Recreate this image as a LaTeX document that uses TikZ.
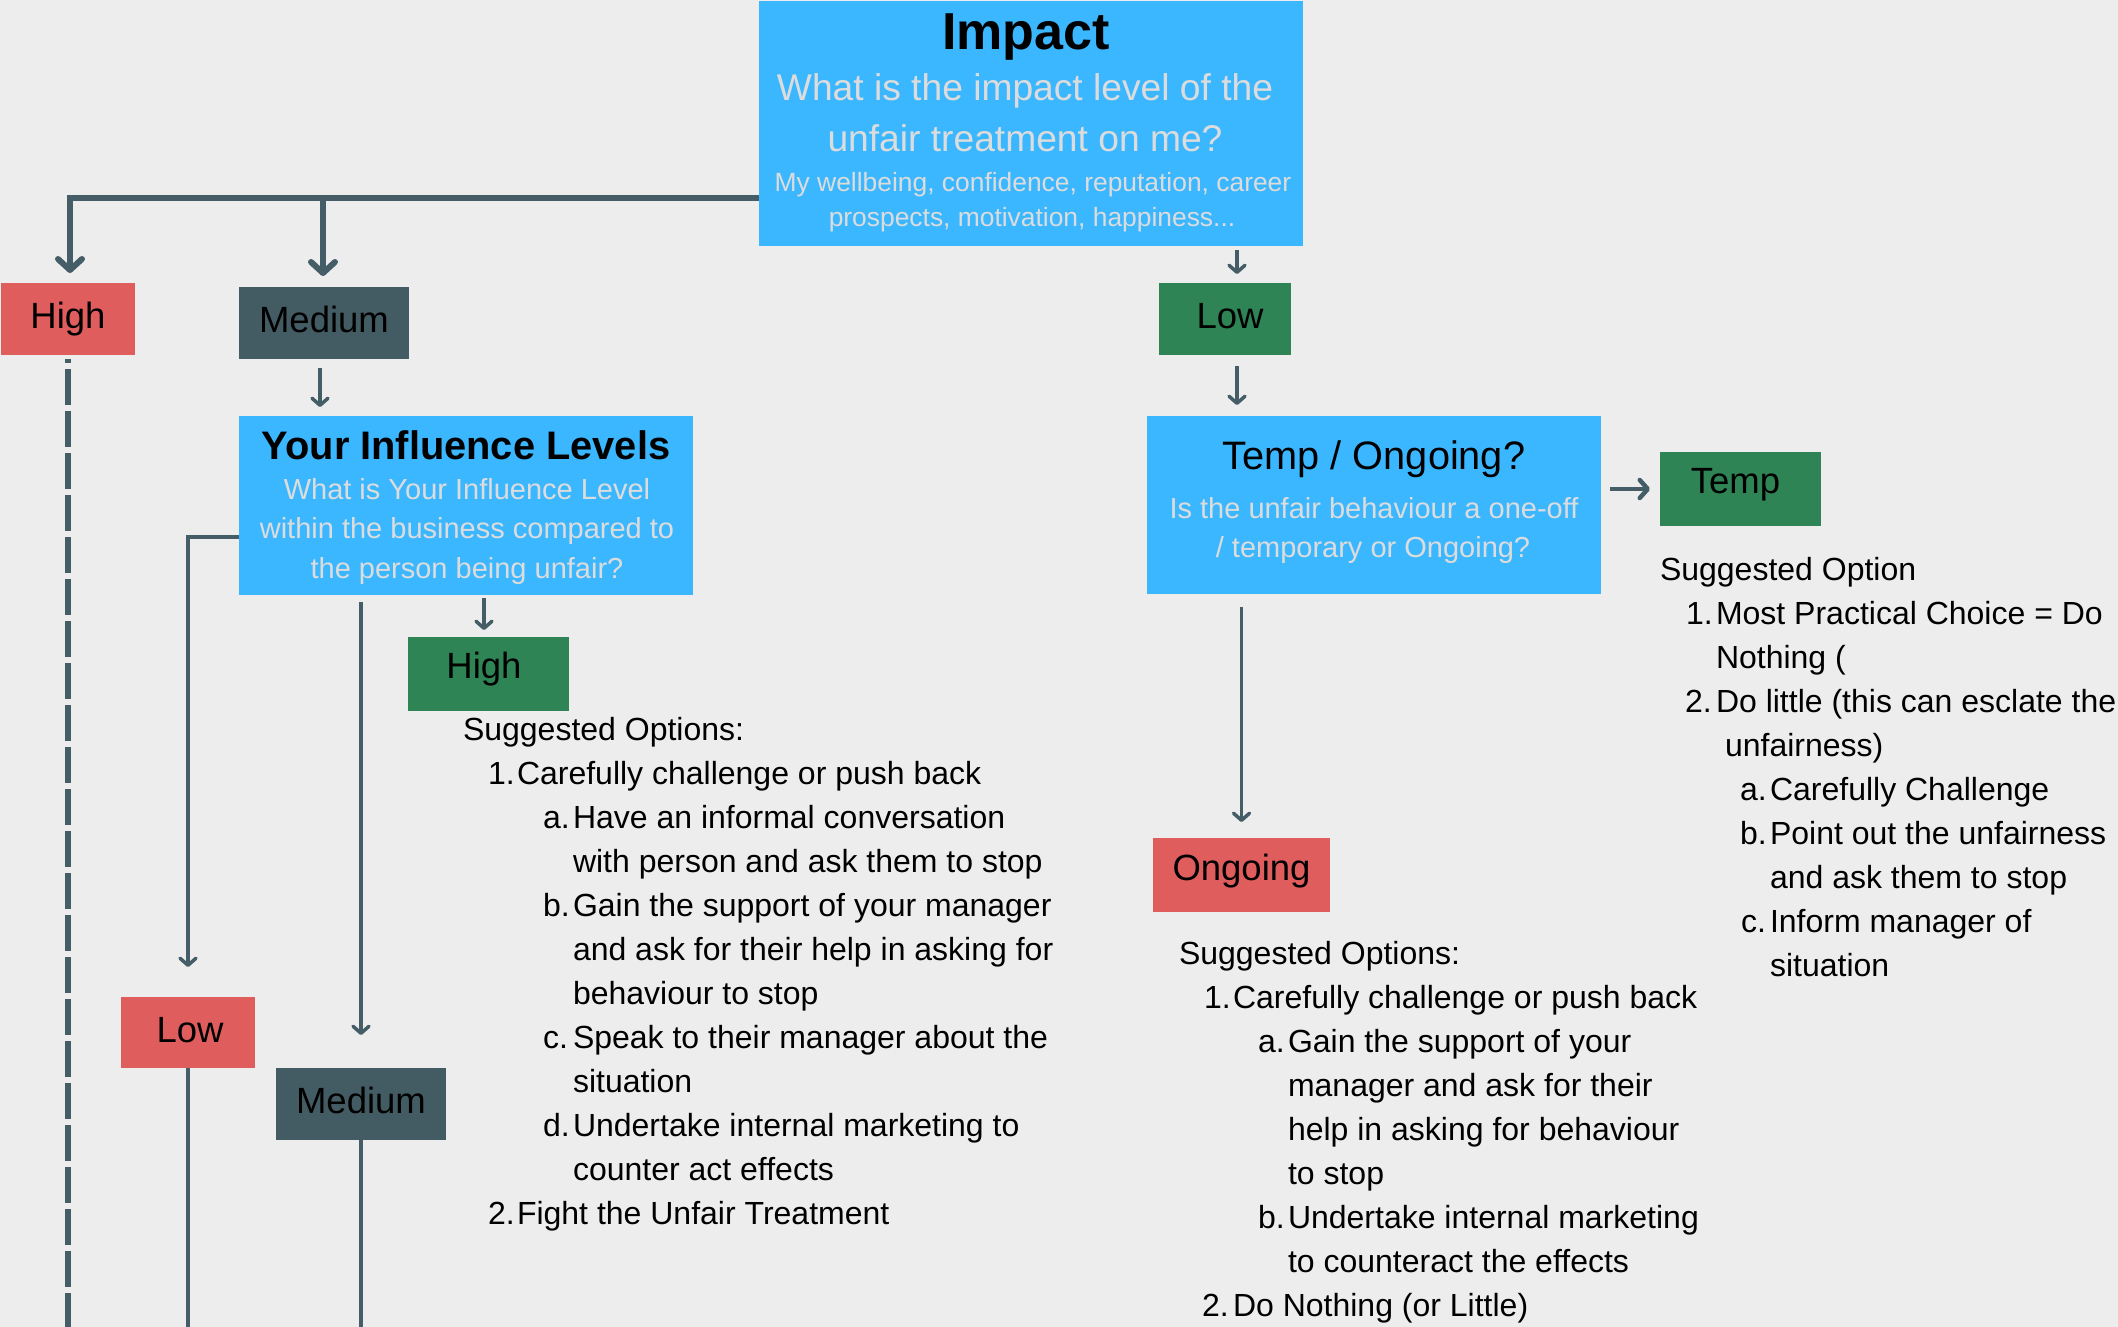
\documentclass[tikz,border=0pt]{standalone}
\usepackage{fontspec}
\setmainfont{Liberation Sans}
\usetikzlibrary{arrows.meta}
\definecolor{bg}{HTML}{EDEDED}
\definecolor{qblue}{HTML}{3BB7FF}
\definecolor{qred}{HTML}{E05D5D}
\definecolor{qgreen}{HTML}{2E8454}
\definecolor{qslate}{HTML}{435B63}
\definecolor{qline}{HTML}{455D66}
\definecolor{qgrey}{HTML}{DCDCDC}
\begin{document}
\begin{tikzpicture}[x=1pt,y=-1pt,
  blk/.style={inner sep=0pt,outer sep=0pt,draw=none},
  lbl/.style={blk,font=\fontsize{36.5}{40}\selectfont,text=black,text height=26.5pt,text depth=7.5pt},
  txt/.style={anchor=base,inner sep=0pt,outer sep=0pt},
  ttl/.style={txt,font=\fontsize{#1}{#1}\selectfont\bfseries,text=black},
  sub/.style={txt,font=\fontsize{#1}{#1}\selectfont,text=qgrey},
  body/.style={anchor=base west,inner sep=0pt,outer sep=0pt,font=\fontsize{32}{38}\selectfont,text=black},
  conn/.style={draw=qline,line width=3.5pt},
  thinarrow/.style={conn,-{Straight Barb[length=7pt,width=16pt,round]}},
  bigarrow/.style={draw=qline,line width=6pt,-{Straight Barb[length=11pt,width=24pt,round]}},
  midarrow/.style={draw=qline,line width=4.5pt,-{Straight Barb[length=8pt,width=18pt,round]}},
  dashline/.style={draw=qline,line width=6pt,dash pattern=on 36pt off 6pt,dash phase=32pt}
]
\fill[bg] (0,0) rectangle (2118,1327);
\useasboundingbox (0,0) rectangle (2118,1327);

% ---- big question boxes
\node[blk,fill=qblue,minimum width=544pt,minimum height=245pt] (impact) at (1031,123.5) {};
\node[ttl=52] (impactT) at (1026,50) {Impact};
\node[sub=37.2] (impactS1) at (1025,101) {What is the impact level of the};
\node[sub=37.2] (impactS2) at (1025,152) {unfair treatment on me?};
\node[sub=26.4] (impactS3) at (1033,191) {My wellbeing, confidence, reputation, career};
\node[sub=26.4] (impactS4) at (1032,226) {prospects, motivation, happiness...};

\node[blk,fill=qblue,minimum width=454pt,minimum height=179pt] (infl) at (466,505.5) {};
\node[ttl=39.8] (inflT) at (466,459) {Your Influence Levels};
\node[sub=29] (inflS1) at (467,499) {What is Your Influence Level};
\node[sub=29] (inflS2) at (467,538) {within the business compared to};
\node[sub=29] (inflS3) at (467,578) {the person being unfair?};

\node[blk,fill=qblue,minimum width=454pt,minimum height=178pt] (tempq) at (1374,505) {};
\node[txt,font=\fontsize{39.7}{40}\selectfont,text=black] (tempqT) at (1374,469) {Temp / Ongoing?};
\node[sub=29] (tempqS1) at (1374,518) {Is the unfair behaviour a one-off};
\node[sub=29] (tempqS2) at (1373,557) {/ temporary or Ongoing?};

% ---- label boxes
\node[lbl,fill=qred,minimum width=134pt,minimum height=72pt] (highR) at (68,319) {High};
\node[lbl,fill=qslate,minimum width=170pt,minimum height=72pt] (medA) at (324,323) {Medium};
\node[lbl,fill=qgreen,minimum width=161pt,minimum height=74pt] (highG) at (488.5,674) {\raisebox{5.5pt}{\kern-4.5pt High\kern4.5pt}};
\node[lbl,fill=qred,minimum width=134pt,minimum height=71pt] (lowR) at (188,1032.5) {\kern2pt Low\kern-2pt};
\node[lbl,fill=qslate,minimum width=170pt,minimum height=72pt] (medB) at (361,1104) {Medium};
\node[lbl,fill=qgreen,minimum width=132pt,minimum height=72pt] (lowG) at (1225,319) {\kern5pt Low\kern-5pt};
\node[lbl,fill=qgreen,minimum width=161pt,minimum height=74pt] (tempG) at (1740.5,489) {\raisebox{5.5pt}{\kern-5pt Temp\kern5pt}};
\node[lbl,fill=qred,minimum width=177pt,minimum height=74pt] (ongR) at (1241.5,875) {\raisebox{4.5pt}{Ongoing}};

% ---- helper coordinates
\coordinate (trunkL) at (70,198);
\coordinate (trunkM) at (323,198);
\coordinate (bot) at (0,1327);
\coordinate (lowbend) at (188,537);
\coordinate (lowx) at (1237,0);
\coordinate (medx) at (320,0);
\coordinate (hgx) at (484,0);

% ---- connectors
\draw[bigarrow,shorten >=10pt] (impact.west |- trunkL) -- (trunkL) -- (trunkL |- highR.north);
\draw[bigarrow,shorten >=11pt] (trunkM) -- (trunkM |- medA.north);
\draw[dashline,shorten <=4pt] (highR.south) -- (highR.south |- bot);
\draw[thinarrow,shorten <=9pt,shorten >=9pt] (medx |- medA.south) -- (medx |- infl.north);
\draw[thinarrow,shorten >=30pt] (infl.west |- lowbend) -- (lowbend) -- (lowbend |- lowR.north);
\draw[thinarrow,shorten <=7pt,shorten >=33pt] (medB.north |- infl.south) -- (medB.north);
\draw[thinarrow,shorten <=3pt,shorten >=7pt] (hgx |- infl.south) -- (hgx |- highG.north);
\draw[conn] (lowR.south) -- (lowR.south |- bot);
\draw[conn] (medB.south) -- (medB.south |- bot);
\draw[thinarrow,shorten <=4pt,shorten >=9pt] (lowx |- impact.south) -- (lowx |- lowG.north);
\draw[thinarrow,shorten <=11pt,shorten >=11pt] (lowx |- lowG.south) -- (lowx |- tempq.north);
\draw[midarrow,shorten <=9pt,shorten >=10pt] (tempq.east |- tempG.west) -- (tempG.west);
\draw[thinarrow,shorten <=13pt,shorten >=16pt] (ongR.north |- tempq.south) -- (ongR.north);

% ---- High (influence) options
\node[body] (h0) at (463,740) {Suggested Options:};
\node[body] (h1n) at (488,784) {1.};
\node[body] (h1) at (517,784) {Carefully challenge or push back};
\node[body] (h2n) at (543,828) {a.};
\node[body] (h2) at (573,828) {Have an informal conversation};
\node[body] (h3) at (573,872) {with person and ask them to stop};
\node[body] (h4n) at (543,916) {b.};
\node[body] (h4) at (573,916) {Gain the support of your manager};
\node[body] (h5) at (573,960) {and ask for their help in asking for};
\node[body] (h6) at (573,1004) {behaviour to stop};
\node[body] (h7n) at (543,1048) {c.};
\node[body] (h7) at (573,1048) {Speak to their manager about the};
\node[body] (h8) at (573,1092) {situation};
\node[body] (h9n) at (543,1136) {d.};
\node[body] (h9) at (573,1136) {Undertake internal marketing to};
\node[body] (h10) at (573,1180) {counter act effects};
\node[body] (h11n) at (488,1224) {2.};
\node[body] (h11) at (517,1224) {Fight the Unfair Treatment};

% ---- Temp options
\node[body] (t0) at (1660,580) {Suggested Option};
\node[body] (t1n) at (1686,624) {1.};
\node[body] (t1) at (1716,624) {Most Practical Choice = Do};
\node[body] (t2) at (1716,668) {Nothing (};
\node[body] (t3n) at (1685,712) {2.};
\node[body] (t3) at (1716,712) {Do little (this can esclate the};
\node[body] (t4) at (1725,756) {unfairness)};
\node[body] (t5n) at (1740,800) {a.};
\node[body] (t5) at (1770,800) {Carefully Challenge};
\node[body] (t6n) at (1740,844) {b.};
\node[body] (t6) at (1770,844) {Point out the unfairness};
\node[body] (t7) at (1770,888) {and ask them to stop};
\node[body] (t8n) at (1741,932) {c.};
\node[body] (t8) at (1770,932) {Inform manager of};
\node[body] (t9) at (1770,976) {situation};

% ---- Ongoing options
\node[body] (o0) at (1179,964) {Suggested Options:};
\node[body] (o1n) at (1204,1008) {1.};
\node[body] (o1) at (1233,1008) {Carefully challenge or push back};
\node[body] (o2n) at (1258,1052) {a.};
\node[body] (o2) at (1288,1052) {Gain the support of your};
\node[body] (o3) at (1288,1096) {manager and ask for their};
\node[body] (o4) at (1288,1140) {help in asking for behaviour};
\node[body] (o5) at (1288,1184) {to stop};
\node[body] (o6n) at (1258,1228) {b.};
\node[body] (o6) at (1288,1228) {Undertake internal marketing};
\node[body] (o7) at (1288,1272) {to counteract the effects};
\node[body] (o8n) at (1202,1316) {2.};
\node[body] (o8) at (1233,1316) {Do Nothing (or Little)};
\end{tikzpicture}
\end{document}
